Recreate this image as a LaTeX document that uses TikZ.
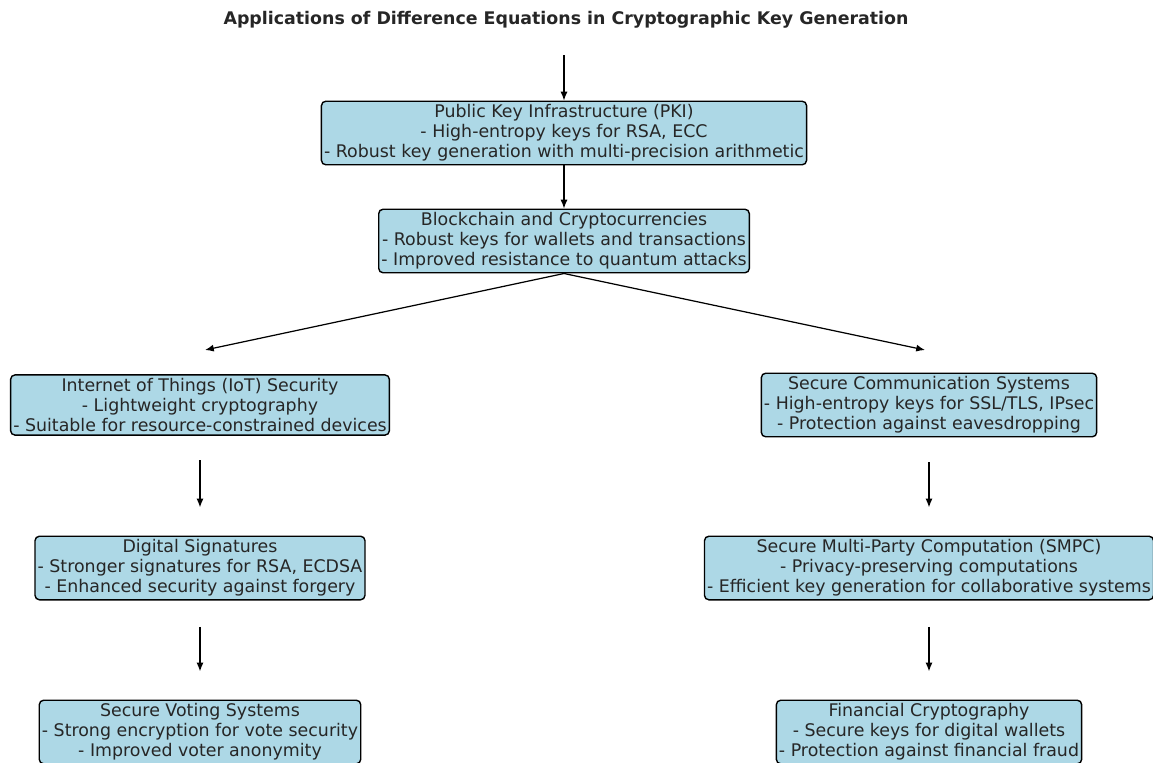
\documentclass[tikz,border=0pt]{standalone}
\usepackage{fontspec}
\setmainfont{DejaVu Sans}
\usepackage{tikz}
\usetikzlibrary{arrows.meta}
\definecolor{boxblue}{RGB}{173,216,230}

\begin{document}
\begin{tikzpicture}[x=0.02cm, y=-0.02cm, >={Latex[length=5pt,width=4pt]},
        appbox/.style={draw, black, line width=0.8pt, fill=boxblue, rounded corners=2.5pt,
            align=center, inner xsep=1.5pt, inner ysep=2pt,
            font=\fontsize{9.9}{11.3}\selectfont, text=black!85},
        flow/.style={line width=0.7pt, ->}]
        \useasboundingbox (0,0) rectangle (1153,762);
        \node[font=\bfseries\fontsize{9.9}{11}\selectfont, text=black!85] (title) at (566,20){Applications of Difference Equations in Cryptographic Key Generation};
        %top part
        \node[appbox] (pki) at (564,133){Public Key Infrastructure (PKI)\\- High-entropy keys for RSA, ECC\\- Robust key generation with multi-precision arithmetic};
        \node[appbox] (bc) at (564,241){Blockchain and Cryptocurrencies\\- Robust keys for wallets and transactions\\- Improved resistance to quantum attacks};
        %left part
        \node[appbox] (iot) at (200,405){Internet of Things (IoT) Security\\- Lightweight cryptography\\- Suitable for resource-constrained devices};
        \node[appbox] (dig) at (200,568){Digital Signatures\\- Stronger signatures for RSA, ECDSA\\- Enhanced security against forgery};
        \node[appbox] (vote) at (200,732){Secure Voting Systems\\- Strong encryption for vote security\\- Improved voter anonymity};
        %right part
        \node[appbox] (scs) at (929,405){Secure Communication Systems\\- High-entropy keys for SSL/TLS, IPsec\\- Protection against eavesdropping};
        \node[appbox] (smpc) at (929,568){Secure Multi-Party Computation (SMPC)\\- Privacy-preserving computations\\- Efficient key generation for collaborative systems};
        \node[appbox] (fin) at (929,732){Financial Cryptography\\- Secure keys for digital wallets\\- Protection against financial fraud};
        %free arrow ends
        \coordinate (start) at (564,55);
        \coordinate (iotin) at (205,350);
        \coordinate (scsin) at (925,350);
        %array
        \draw[flow] (start) -- (pki.north);
        \draw[flow] (pki.south) -- (bc.north);
        \draw[flow] (bc.south) -- (iotin);
        \draw[flow] (bc.south) -- (scsin);
        \draw[flow, shorten <=14pt, shorten >=16pt] (iot.south) -- (dig.north);
        \draw[flow, shorten <=15pt, shorten >=16pt] (dig.south) -- (vote.north);
        \draw[flow, shorten <=14pt, shorten >=16pt] (scs.south) -- (smpc.north);
        \draw[flow, shorten <=15pt, shorten >=16pt] (smpc.south) -- (fin.north);
    \end{tikzpicture}
\end{document}
